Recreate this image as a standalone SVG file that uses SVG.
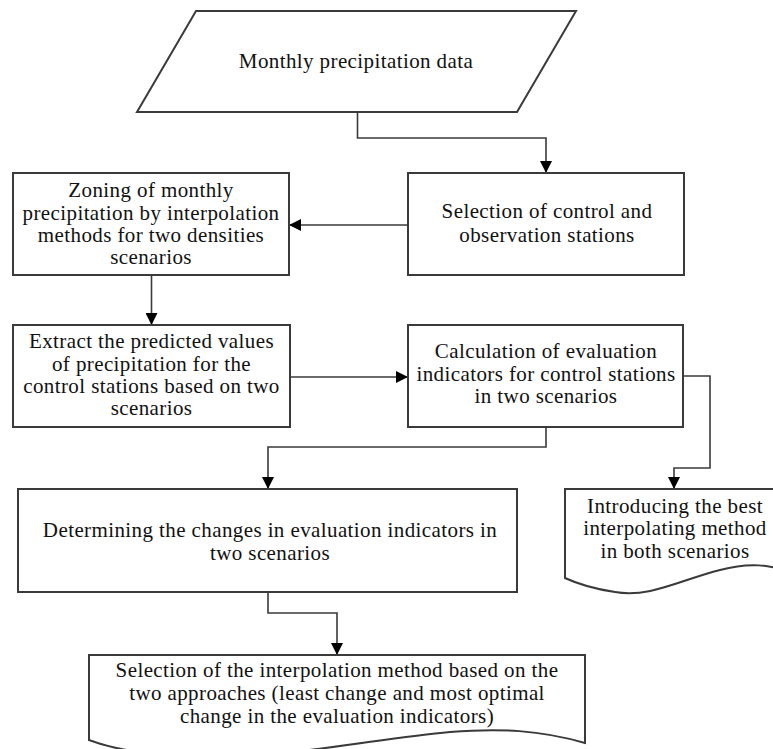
<svg xmlns="http://www.w3.org/2000/svg" width="773" height="749" viewBox="0 0 773 749">
<style>
.shape{fill:#fff;stroke:#3a3a3a;stroke-width:2}
.conn{fill:none;stroke:#3a3a3a;stroke-width:1.6}
text{font-family:"Liberation Serif","Times New Roman",serif;font-size:21px;fill:#111;text-anchor:middle;letter-spacing:0.4px}
</style>
<defs>
<marker id="arr" viewBox="0 0 12 12" markerUnits="userSpaceOnUse" markerWidth="12" markerHeight="12" refX="12" refY="6" orient="auto">
<path d="M0,0 L12,6 L0,12 z" fill="#000"/>
</marker>
</defs>
<rect width="773" height="749" fill="#fff"/>
<g id="connectors">
<path class="conn" d="M357.5,112 V138 H546 V173" marker-end="url(#arr)"/>
<path class="conn" d="M408,225 H289" marker-end="url(#arr)"/>
<path class="conn" d="M151.5,275 V325" marker-end="url(#arr)"/>
<path class="conn" d="M290,377 H408" marker-end="url(#arr)"/>
<path class="conn" d="M546,427 V447 H268 V489" marker-end="url(#arr)"/>
<path class="conn" d="M683,376 H710 V468 H674 V489" marker-end="url(#arr)"/>
<path class="conn" d="M268,592 V613 H337 V655" marker-end="url(#arr)"/>
</g>
<g id="n-data">
<polygon class="shape" points="196,11 576,11 517,112 137,112"/>
<text x="356" y="68">Monthly precipitation data</text>
</g>
<g id="n-zoning">
<rect class="shape" x="13" y="173" width="276" height="102"/>
<text x="151" y="197">Zoning of monthly</text>
<text x="151" y="219.5">precipitation by interpolation</text>
<text x="151" y="242">methods for two densities</text>
<text x="151" y="264">scenarios</text>
</g>
<g id="n-selection">
<rect class="shape" x="408" y="173" width="276" height="102"/>
<text x="547" y="218">Selection of control and</text>
<text x="547" y="241.5">observation stations</text>
</g>
<g id="n-extract">
<rect class="shape" x="13" y="325" width="277" height="102"/>
<text x="151.5" y="348">Extract the predicted values</text>
<text x="151.5" y="370.5">of precipitation for the</text>
<text x="151.5" y="393">control stations based on two</text>
<text x="151.5" y="415">scenarios</text>
</g>
<g id="n-calc">
<rect class="shape" x="408" y="325" width="275" height="102"/>
<text x="546" y="358">Calculation of evaluation</text>
<text x="546" y="381">indicators for control stations</text>
<text x="546" y="403">in two scenarios</text>
</g>
<g id="n-determining">
<rect class="shape" x="18" y="489" width="499" height="103"/>
<text x="270" y="537">Determining the changes in evaluation indicators in</text>
<text x="270" y="560">two scenarios</text>
</g>
<g id="n-introducing">
<path class="shape" d="M565,578 V489 H790 V572 C770,565 750,562 720,570 C680,580 650,598 615,592 C595,589 580,585 565,578 Z"/>
<text x="675" y="512.5">Introducing the best</text>
<text x="675" y="535">interpolating method</text>
<text x="675" y="558">in both scenarios</text>
</g>
<g id="n-final">
<path class="shape" d="M89,740 V655 H585 V743 C540,730 500,728 450,732 C380,738 300,756 220,756 C150,756 115,750 89,740 Z"/>
<text x="337" y="677">Selection of the interpolation method based on the</text>
<text x="337" y="700">two approaches (least change and most optimal</text>
<text x="337" y="723">change in the evaluation indicators)</text>
</g>
</svg>
